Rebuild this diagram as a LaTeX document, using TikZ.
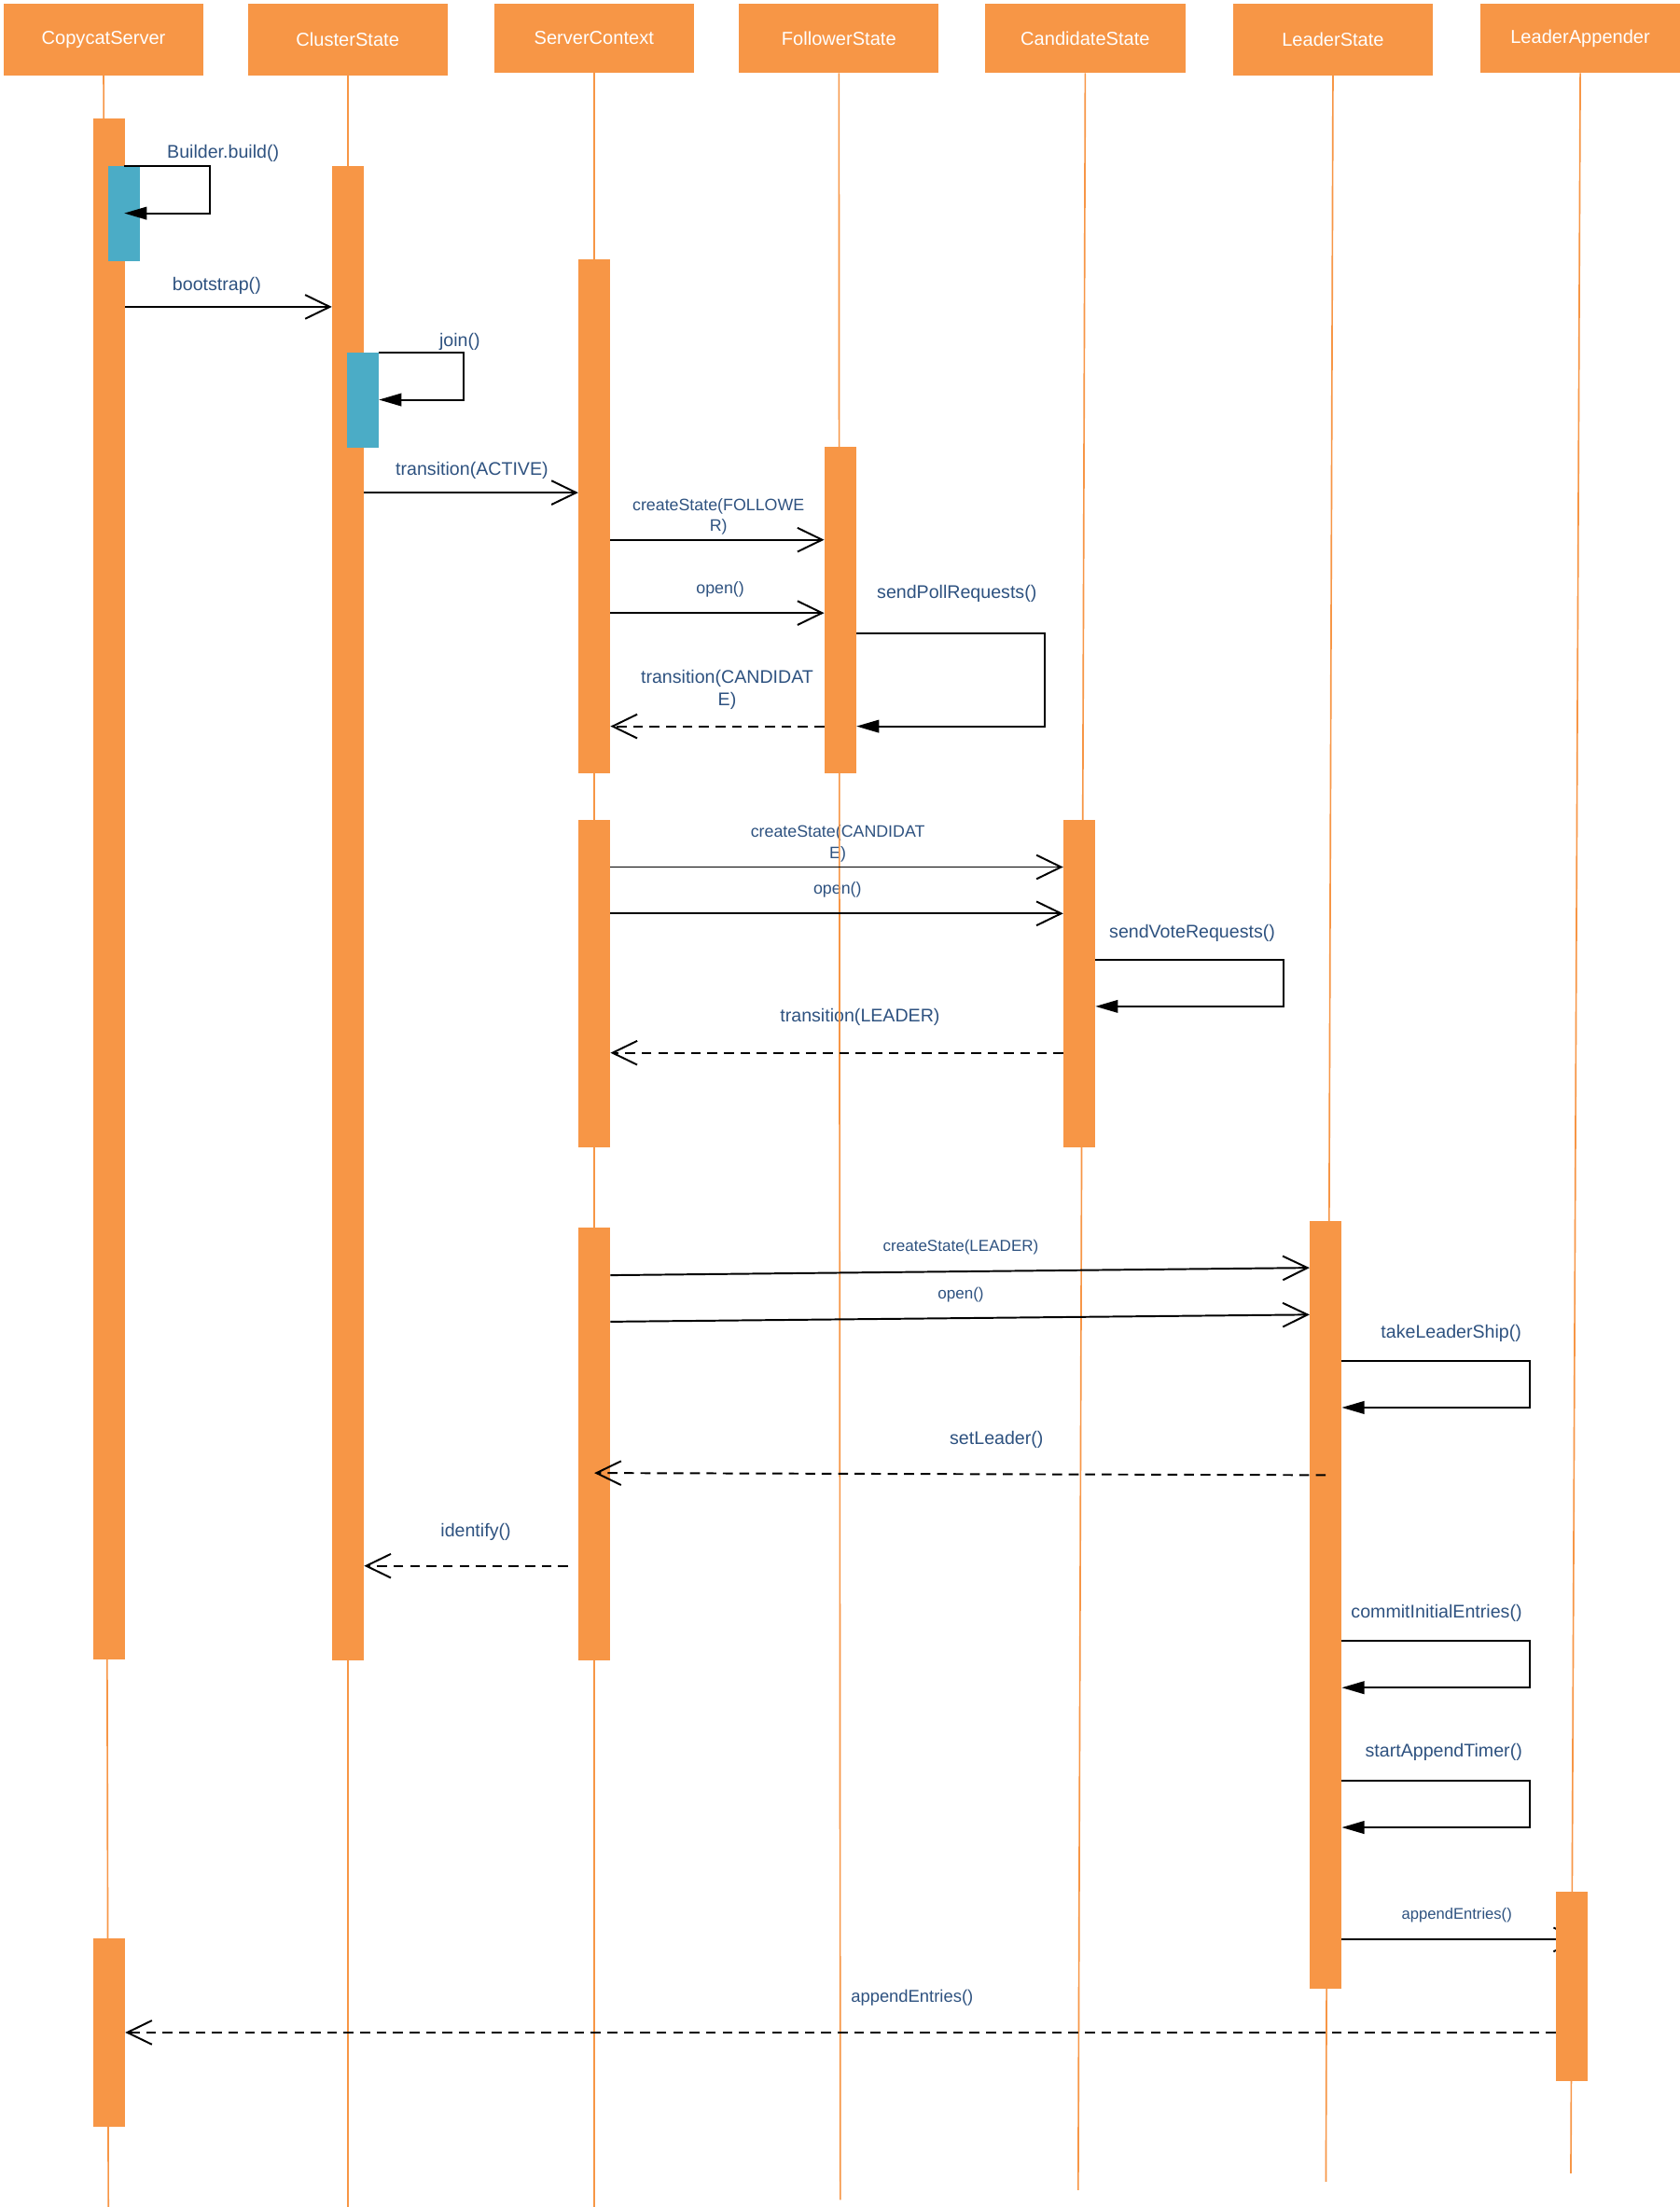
\documentclass[tikz,border=0pt]{standalone}
\usepackage{fontspec}
\setmainfont{Liberation Sans}
\usetikzlibrary{arrows.meta}
\definecolor{lifeorange}{RGB}{247,150,70}
\definecolor{selfteal}{RGB}{75,172,198}
\definecolor{msgblue}{RGB}{46,82,128}
\begin{document}
\begin{tikzpicture}[x=1pt,y=-1pt,
  header/.style={rectangle, fill=lifeorange, text=white, minimum width=142pt,
    inner sep=0pt, font=\fontsize{13.3}{16}\selectfont},
  lifeline/.style={draw=lifeorange, line width=1.1pt},
  actbar/.style={rectangle, fill=lifeorange, minimum width=22.5pt, inner sep=0pt, anchor=north},
  selfbar/.style={rectangle, fill=selfteal, minimum width=22.5pt, inner sep=0pt, anchor=north},
  lblL/.style={text=msgblue, inner sep=0pt, align=center, font=\fontsize{13}{15.9}\selectfont},
  lblS/.style={text=msgblue, inner sep=0pt, align=center, font=\fontsize{11.8}{14.6}\selectfont},
  call/.style={draw=black, line width=1.3pt, -{Straight Barb[length=17.5pt,width=17pt]}},
  reply/.style={call, dash pattern=on 7pt off 4.7pt},
  selfcall/.style={draw=black, line width=1.3pt, -{Triangle[length=16pt,width=9pt]}},
]
\fill[white] (0,0) rectangle (1193,1568);
\useasboundingbox (0,0) rectangle (1193,1568);

% participants
\node[header, minimum height=50.8pt] (hCS) at (73.6,28)   {CopycatServer};
\node[header, minimum height=50.8pt] (hCL) at (247,28)    {ClusterState};
\node[header, minimum height=49.2pt] (hSC) at (422,27.2)  {ServerContext};
\node[header, minimum height=49.2pt] (hFS) at (596,27.2)  {FollowerState};
\node[header, minimum height=49.2pt] (hCD) at (771,27.2)  {CandidateState};
\node[header, minimum height=50.8pt] (hLS) at (947,28)    {LeaderState};
\node[header, minimum height=49.2pt] (hLA) at (1122.7,27.2) {LeaderAppender};

% message labels
\node[lblL] (lBuild)  at (158.5,108.7) {Builder.build()};
\node[lblL] (lBoot)   at (154,203)     {bootstrap()};
\node[lblL] (lJoin)   at (326.6,243)   {join()};
\node[lblL] (lAct)    at (335.3,334)   {transition(ACTIVE)};
\node[lblS] (lCrF)    at (510.4,367.3) {createState(FOLLOWE\\R)};
\node[lblS] (lOpF)    at (511.7,419)   {open()};
\node[lblL] (lPoll)   at (679.8,422)   {sendPollRequests()};
\node[lblL] (lToC)    at (516.6,490.2) {transition(CANDIDAT\\E)};
\node[lblS, font=\fontsize{11.8}{15}\selectfont] (lCrC) at (595.2,599.5) {createState(CANDIDAT\\E)};
\node[lblS] (lOpC)    at (595,632)     {open()};
\node[lblL] (lVote)   at (847,663)     {sendVoteRequests()};
\node[lblL] (lToL)    at (611,722.5)   {transition(LEADER)};
\node[lblS, font=\fontsize{11.3}{14}\selectfont] (lCrL) at (682.6,886) {createState(LEADER)};
\node[lblS, font=\fontsize{11.3}{14}\selectfont] (lOpL) at (682.6,920) {open()};
\node[lblL] (lTake)   at (1031,947)    {takeLeaderShip()};
\node[lblL] (lSet)    at (708,1023)    {setLeader()};
\node[lblL] (lIdent)  at (338,1088.7)  {identify()};
\node[lblL] (lCommit) at (1020.6,1146) {commitInitialEntries()};
\node[lblL] (lTimer)  at (1025.7,1245) {startAppendTimer()};
\node[lblS, font=\fontsize{11}{13}\selectfont] (lApp) at (1035,1361) {appendEntries()};
\node[lblL, font=\fontsize{12.2}{14}\selectfont] (lAppBack) at (648,1419.5) {appendEntries()};

% lifelines
\coordinate (eCS) at (77,1568);
\coordinate (eCL) at (247,1568);
\coordinate (eSC) at (422,1568);
\coordinate (eFS) at (597,1563);
\coordinate (eCD) at (766,1556);
\coordinate (eLS) at (942,1550);
\coordinate (eLA) at (1116,1544);
\draw[lifeline] (hCS.south) -- (eCS);
\draw[lifeline] (hCL.south) -- (eCL);
\draw[lifeline] (hSC.south) -- (eSC);
\draw[lifeline] (hFS.south) -- (eFS);
\draw[lifeline] (hCD.south) -- (eCD);
\draw[lifeline] (hLS.south) -- (eLS);
\draw[lifeline] (hLA.south) -- (eLA);

% activation bars
\node[actbar, minimum height=1095pt]   (bCS1) at (77.5,84) {};
\node[actbar, minimum height=134pt]    (bCS2) at (77.5,1377) {};
\node[actbar, minimum height=1061.5pt] (bCL)  at (247.25,118) {};
\node[actbar, minimum height=365.5pt]  (bSC1) at (422.25,184) {};
\node[actbar, minimum height=233pt]    (bSC2) at (422.25,582) {};
\node[actbar, minimum height=307.5pt]  (bSC3) at (422.25,872) {};
\node[actbar, minimum height=232.5pt]  (bFS)  at (597,317) {};
\node[actbar, minimum height=233pt]    (bCD)  at (766.8,582) {};
\node[actbar, minimum height=545.5pt]  (bLS)  at (941.8,867) {};

% this call runs in under the appender's bar
\draw[call] (bLS.east |- 0,1378) -- (hLA.south |- 0,1378);
\node[actbar, minimum height=134pt]    (bLA)  at (1116.75,1344) {};

% nested self activations
\node[selfbar, minimum height=67.5pt] (tCS) at (88.25,118) {};
\node[selfbar, minimum height=67.7pt] (tCL) at (257.75,250.3) {};

% messages
\draw[selfcall] (tCS.north) -- ++(61,0) -- ++(0,33.5) -- (tCS.center |- 0,151.5);
\draw[call] (bCS1.east |- 0,218) -- (bCL.west |- 0,218);
\draw[selfcall] (tCL.north east) -- ++(60.4,0) -- ++(0,33.7) -- (tCL.east |- 0,284);
\draw[call] (bCL.east |- 0,350) -- (bSC1.west |- 0,350);
\draw[call] (bSC1.east |- 0,383.5) -- (bFS.west |- 0,383.5);
\draw[call] (bSC1.east |- 0,435.5) -- (bFS.west |- 0,435.5);
\draw[selfcall] (bFS.east |- 0,450) -- ++(133.7,0) -- ++(0,66) -- (bFS.east |- 0,516);
\draw[reply] (bFS.west |- 0,516) -- (bSC1.east |- 0,516);
\draw[call] (bSC2.east |- 0,616) -- (bCD.west |- 0,616);
\draw[call] (bSC2.east |- 0,649) -- (bCD.west |- 0,649);
\draw[selfcall] (bCD.east |- 0,682) -- ++(133.6,0) -- ++(0,33) -- (bCD.east |- 0,715);
\draw[reply] (bCD.west |- 0,748) -- (bSC2.east |- 0,748);
\draw[call] (bSC3.east |- 0,906) -- (bLS.west |- 0,900.7);
\draw[call] (bSC3.east |- 0,939) -- (bLS.west |- 0,934);
\draw[selfcall] (bLS.east |- 0,967) -- ++(133.5,0) -- ++(0,33) -- (bLS.east |- 0,1000);
\draw[reply] (bLS.center |- 0,1048) -- (bSC3.center |- 0,1046.5);
\coordinate (idSrc) at (403.6,1112.5);
\draw[reply] (idSrc) -- (bCL.east |- idSrc);
\draw[selfcall] (bLS.east |- 0,1166) -- ++(133.5,0) -- ++(0,33) -- (bLS.east |- 0,1199);
\draw[selfcall] (bLS.east |- 0,1265.3) -- ++(133.5,0) -- ++(0,33) -- (bLS.east |- 0,1298.3);
\draw[reply] (bLA.west |- 0,1444) -- (bCS2.east |- 0,1444);
\end{tikzpicture}
\end{document}
